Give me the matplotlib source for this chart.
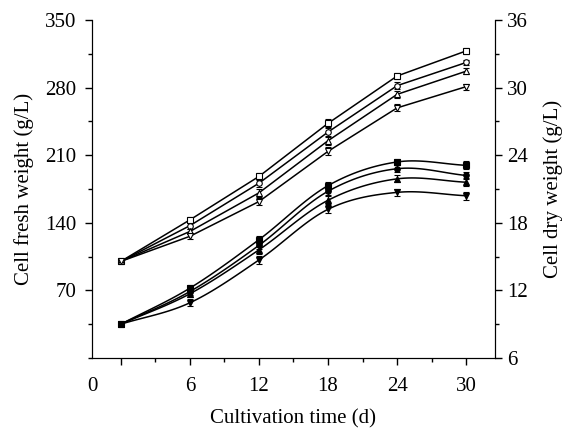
import numpy as np
import matplotlib
matplotlib.use('Agg')
import matplotlib.pyplot as plt
from matplotlib.ticker import MultipleLocator

plt.rcParams['font.family'] = ['Liberation Serif', 'DejaVu Serif']
plt.rcParams['font.size'] = 15

days = [0, 6, 12, 18, 24, 30]

# fresh weight (g/L), left axis, open markers
fresh_1 = [100, 143, 188, 243, 292, 318]
fresh_2 = [100, 137, 181, 234, 282, 306]
fresh_3 = [100, 131, 171, 225, 273, 297]
fresh_4 = [100, 126, 162, 214, 259, 281]
fresh_err = [1.5, 3, 4, 4, 3.5, 3]

# dry weight (g/L), right axis, filled markers
dry_1 = [9.0, 12.2, 16.5, 21.3, 23.4, 23.1]
dry_2 = [9.0, 11.9, 16.0, 20.8, 22.8, 22.2]
dry_3 = [9.0, 11.7, 15.6, 20.0, 21.9, 21.6]
dry_4 = [9.0, 10.9, 14.7, 19.2, 20.7, 20.4]
dry_err = [0.15, 0.3, 0.35, 0.35, 0.3, 0.35]

markers = ['s', 'o', '^', 'v']


def smooth(x, y, n=20):
    # cubic Hermite curve through the measured points
    x = np.asarray(x, float)
    y = np.asarray(y, float)
    m = np.gradient(y, x)
    xs, ys = [], []
    for i in range(len(x) - 1):
        h = x[i + 1] - x[i]
        t = np.linspace(0, 1, n)
        h00 = 2 * t**3 - 3 * t**2 + 1
        h10 = t**3 - 2 * t**2 + t
        h01 = -2 * t**3 + 3 * t**2
        h11 = t**3 - t**2
        xs.append(x[i] + t * h)
        ys.append(h00 * y[i] + h10 * h * m[i] + h01 * y[i + 1] + h11 * h * m[i + 1])
    return np.concatenate(xs), np.concatenate(ys)


fig, ax = plt.subplots(figsize=(5.66, 4.29), dpi=100)
fig.subplots_adjust(left=0.1625, right=0.8746, top=0.9534, bottom=0.1655)
ax2 = ax.twinx()

for ser, mk in zip([fresh_1, fresh_2, fresh_3, fresh_4], markers):
    ax.plot(days, ser, color='black', lw=1.1)
    ax.errorbar(days, ser, yerr=fresh_err, fmt=mk, mfc='white', mec='black',
                ms=4, mew=0.8, ecolor='black', elinewidth=0.8, capsize=2.5, zorder=3)

for ser, mk in zip([dry_1, dry_2, dry_3, dry_4], markers):
    sx, sy = smooth(days, ser)
    ax2.plot(sx, sy, color='black', lw=1.1)
    ax2.errorbar(days, ser, yerr=dry_err, fmt=mk, mfc='black', mec='black',
                 ms=4, mew=0.8, ecolor='black', elinewidth=0.8, capsize=2.5, zorder=3)

ax.set_xlim(-2.5, 32.5)
ax.set_ylim(0, 350)
ax2.set_ylim(6, 36)

ax.set_xticks([-2.5, 0, 6, 12, 18, 24, 30])
ax.set_xticklabels(['0', '', '6', '12', '18', '24', '30'])
ax.xaxis.get_major_ticks()[0].tick1line.set_visible(False)
ax.xaxis.set_minor_locator(MultipleLocator(3))
ax.set_yticks([70, 140, 210, 280, 350])
ax.yaxis.set_minor_locator(MultipleLocator(35))
ax2.set_yticks([6, 12, 18, 24, 30, 36])
ax2.yaxis.set_minor_locator(MultipleLocator(3))

for a in (ax, ax2):
    a.spines['top'].set_visible(False)
    a.tick_params(which='major', direction='out', length=5, width=1)
    a.tick_params(which='minor', direction='out', length=3, width=1)
    a.tick_params(labelsize=15)
ax.tick_params(axis='x', pad=8.5)
ax.tick_params(axis='y', pad=6)

ax.set_xlabel('Cultivation time (d)', fontsize=15, labelpad=10)
ax.set_ylabel('Cell fresh weight (g/L)', fontsize=15, labelpad=8)
ax2.set_ylabel('Cell dry weight (g/L)', fontsize=15, labelpad=11)

fig.savefig('out.png', dpi=100)
